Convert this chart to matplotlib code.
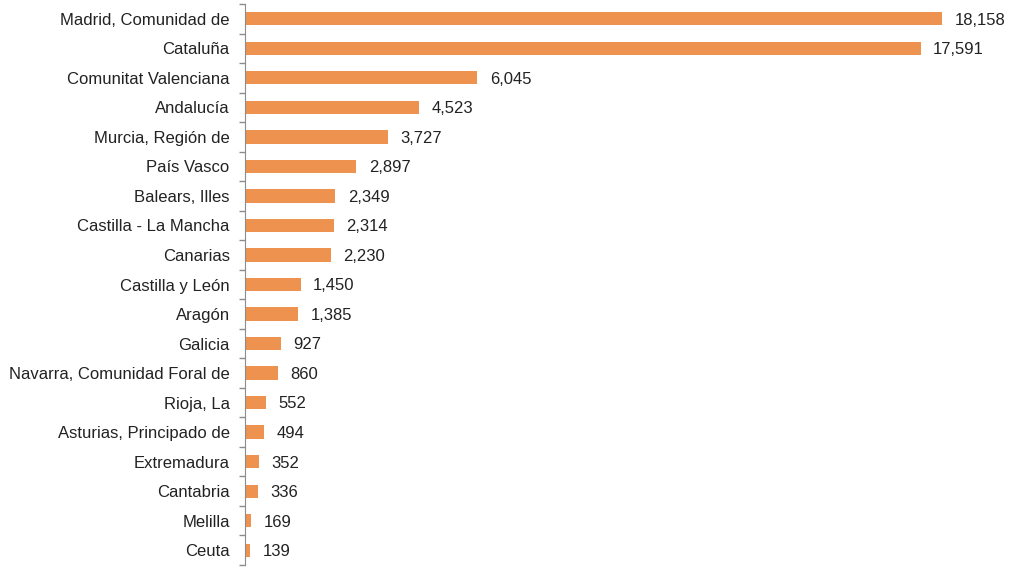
import matplotlib.pyplot as plt
import numpy as np

regiones = ['Madrid, Comunidad de', 'Cataluña', 'Comunitat Valenciana', 'Andalucía',
            'Murcia, Región de', 'País Vasco', 'Balears, Illes', 'Castilla - La Mancha',
            'Canarias', 'Castilla y León', 'Aragón', 'Galicia',
            'Navarra, Comunidad Foral de', 'Rioja, La', 'Asturias, Principado de',
            'Extremadura', 'Cantabria', 'Melilla', 'Ceuta']
valores = [18158, 17591, 6045, 4523, 3727, 2897, 2349, 2314, 2230, 1450,
           1385, 927, 860, 552, 494, 352, 336, 169, 139]

plt.rcParams['font.family'] = ['Liberation Sans', 'DejaVu Sans']

fig = plt.figure(figsize=(10.24, 5.75), dpi=100)
ax = fig.add_axes([245 / 1024, 10 / 575, 765 / 1024, 561 / 575])

n = len(regiones)
pos = np.arange(n)
ax.barh(pos, valores, height=0.45, color='#EE924F')
ax.set_ylim(n - 0.5, -0.5)
ax.set_xlim(0, 19920)

ax.set_yticks(pos)
ax.set_yticklabels(regiones, fontsize=12, color='#222222')
ax.tick_params(axis='y', which='major', length=0, pad=11)
ax.set_yticks(np.arange(n + 1) - 0.5, minor=True)
ax.tick_params(axis='y', which='minor', length=4, color='#8c8c8c', width=1, direction='out')
ax.set_xticks([])

for s in ['top', 'right', 'bottom']:
    ax.spines[s].set_visible(False)
ax.spines['left'].set_color('#8c8c8c')

for p, v in zip(pos, valores):
    ax.annotate('{:,}'.format(v), (v, p), xytext=(9, -1), textcoords='offset points',
                va='center', ha='left', fontsize=12, color='#222222')

plt.savefig('out.png', dpi=100)
plt.close(fig)
